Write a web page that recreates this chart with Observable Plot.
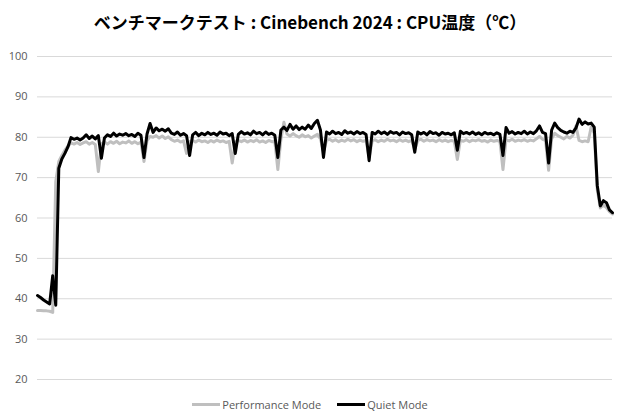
<!DOCTYPE html>
<html>
<head>
<meta charset="utf-8">
<script src="https://cdn.jsdelivr.net/npm/d3@7"></script>
<script src="https://cdn.jsdelivr.net/npm/@observablehq/plot@0.6"></script>
<style>
  html, body { margin: 0; padding: 0; background: #fff; }
  body { width: 620px; height: 420px; overflow: hidden; font-family: "Noto Sans CJK JP", "Noto Sans", sans-serif; }
  #title { height: 40px; line-height: 44px; text-align: center; font-size: 17px; font-weight: bold; color: #000; white-space: pre; }
  #legend { position: absolute; top: 394px; left: 0; width: 620px; height: 20px; display: flex; justify-content: center; align-items: center; font-size: 11px; color: #595959; font-family: "Open Sans", "Noto Sans", sans-serif; }
  .item { display: flex; align-items: center; margin: 0 8px; }
  .sw { display: inline-block; width: 28px; height: 3px; margin-right: 2px; }
</style>
</head>
<body>
<div id="title">ベンチマークテスト : Cinebench 2024 : CPU温度（℃）</div>
<div id="chart"></div>
<div id="legend"></div>
<script>
const seriesNames = ["Performance Mode", "Quiet Mode"];
const seriesColors = ["#bfbfbf", "#000000"];
const yTicks = [20, 30, 40, 50, 60, 70, 80, 90, 100];

const performance = [
  37.1, 37.1, 37.0, 37.0, 36.9, 36.6, 69.0, 74.0, 75.5, 76.8,
  77.8, 78.6, 78.3, 78.7, 78.2, 78.6, 78.9, 78.3, 78.7, 78.2,
  71.5, 78.4, 78.8, 78.3, 78.9, 78.5, 79.0, 78.4, 78.8, 78.6,
  79.1, 78.5, 78.9, 78.4, 78.8, 74.0, 79.2, 80.2, 80.0, 80.4,
  79.8, 80.3, 79.7, 80.1, 79.4, 79.0, 79.3, 78.8, 79.1, 76.0,
  78.9, 79.2, 78.8, 79.3, 78.9, 79.1, 78.7, 79.2, 78.8, 79.3,
  78.9, 79.1, 78.7, 79.0, 73.6, 78.8, 79.2, 78.9, 79.3, 78.8,
  79.2, 78.9, 79.4, 78.8, 79.1, 78.7, 79.2, 78.9, 79.0, 72.0,
  79.5, 83.7, 80.8, 80.3, 80.9, 80.4, 80.0, 80.6, 80.1, 80.4,
  79.8, 80.3, 80.7, 79.6, 76.5, 79.2, 79.5, 79.0, 79.4, 78.9,
  79.3, 79.0, 79.5, 79.1, 79.4, 78.9, 79.3, 79.0, 79.2, 75.0,
  79.1, 79.4, 78.9, 79.3, 79.0, 79.5, 79.1, 79.3, 78.9, 79.4,
  79.0, 79.3, 78.9, 79.2, 77.0, 79.2, 79.5, 79.0, 79.4, 79.1,
  79.3, 78.9, 79.4, 79.0, 79.3, 78.9, 79.2, 79.0, 74.5, 79.3,
  79.0, 79.4, 78.9, 79.3, 79.1, 79.4, 79.0, 79.2, 78.8, 79.3,
  79.0, 79.2, 78.9, 72.0, 79.4, 79.1, 79.5, 79.0, 79.3, 79.1,
  79.4, 79.0, 79.3, 79.1, 79.6, 80.2, 79.5, 79.2, 71.8, 79.6,
  81.0, 80.4, 80.0, 79.6, 80.2, 79.8, 80.5, 82.8, 79.2, 78.9,
  79.1, 78.9, 82.6, 81.0, 67.0, 62.5, 63.2, 62.6, 61.6, 61.0
];

const quiet = [
  40.8, 40.3, 39.7, 39.2, 38.7, 45.7, 38.4, 72.3, 74.6, 76.0,
  77.6, 79.9, 79.5, 79.8, 79.3, 79.8, 80.6, 79.7, 80.3, 79.6,
  80.4, 74.8, 79.8, 80.6, 80.2, 81.0, 80.3, 80.8, 80.5, 80.9,
  80.4, 80.7, 80.2, 81.0, 80.5, 75.0, 80.8, 83.4, 81.2, 82.3,
  81.6, 82.0, 81.5, 82.1, 81.0, 80.7, 81.3, 80.5, 80.9, 80.4,
  75.5, 80.6, 81.2, 80.4, 81.0, 80.6, 81.2, 80.7, 81.0, 80.5,
  81.3, 80.8, 81.0, 80.4, 80.9, 76.0, 80.7, 81.4, 80.8, 81.1,
  80.6, 81.5, 80.9, 81.2, 80.6, 81.3, 80.7, 81.0, 80.5, 75.0,
  81.8, 82.5, 81.7, 83.2, 82.0, 82.8, 81.9, 82.5, 82.0, 83.0,
  82.2, 83.4, 84.2, 81.8, 75.0, 81.3, 80.8, 81.5, 80.9, 81.2,
  80.7, 81.6, 81.0, 81.3, 80.8, 81.4, 80.9, 81.2, 80.7, 74.2,
  81.2, 80.8, 81.5, 80.9, 81.3, 80.7, 81.4, 81.0, 81.2, 80.6,
  81.3, 80.9, 81.1, 80.6, 76.3, 81.3, 80.8, 81.2, 80.6, 81.4,
  80.9, 81.1, 80.5, 81.2, 80.8, 81.0, 80.6, 81.1, 76.8, 81.5,
  80.9, 81.2, 80.8, 81.3, 80.7, 81.1, 80.6, 81.2, 80.8, 81.0,
  80.6, 81.1, 80.7, 75.5, 82.4, 81.0, 81.4, 80.8, 81.2, 80.9,
  81.5, 80.8, 81.3, 80.9, 81.6, 82.8, 81.2, 80.9, 73.6, 81.8,
  83.5, 82.4, 81.7, 81.3, 81.0, 81.5, 81.2, 82.3, 84.5, 83.2,
  83.8, 83.3, 83.5, 82.5, 68.0, 63.0, 64.3, 63.8, 62.0, 61.3
];

const rows = [];
[performance, quiet].forEach((arr, s) => {
  arr.forEach((v, i) => rows.push({ i, v, series: seriesNames[s] }));
});

const chart = Plot.plot({
  width: 620,
  height: 350,
  marginTop: 16,
  marginBottom: 11,
  marginLeft: 37,
  marginRight: 8,
  x: { domain: [0, performance.length - 1], axis: null },
  y: { domain: [20, 100], ticks: yTicks },
  color: { domain: seriesNames, range: seriesColors },
  style: { fontFamily: "'Open Sans', 'Noto Sans', sans-serif", fontSize: "11px", color: "#595959", background: "#fff" },
  marks: [
    Plot.ruleY(yTicks, { stroke: "#d9d9d9", strokeWidth: 1 }),
    Plot.axisY({ ticks: yTicks, tickSize: 0, tickPadding: 10, label: null, fill: "#595959", fontSize: 11 }),
    Plot.line(rows, { x: "i", y: "v", z: "series", stroke: "series", strokeWidth: 3, strokeLinejoin: "round", curve: "linear" })
  ]
});
document.getElementById("chart").appendChild(chart);

const legend = document.getElementById("legend");
seriesNames.forEach((name, k) => {
  const item = document.createElement("div");
  item.className = "item";
  const sw = document.createElement("span");
  sw.className = "sw";
  sw.style.background = seriesColors[k];
  item.appendChild(sw);
  item.appendChild(document.createTextNode(name));
  legend.appendChild(item);
});
</script>
</body>
</html>
